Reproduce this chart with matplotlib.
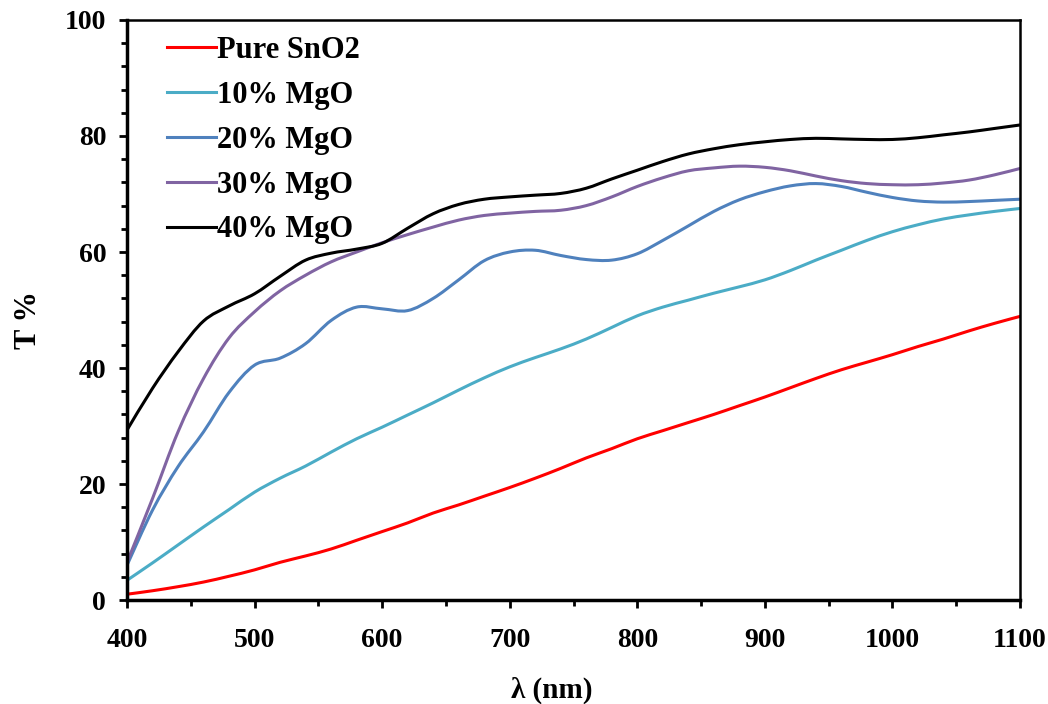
import numpy as np
import matplotlib
matplotlib.use("Agg")
import matplotlib.pyplot as plt
from matplotlib.path import Path
from matplotlib.patches import PathPatch
from matplotlib.lines import Line2D
from matplotlib.ticker import MultipleLocator

# wavelength grid (nm), sampled every 20 nm
wavelength = np.arange(400, 1101, 20)

# transmittance (%) for each film
pure_sno2 = [1.0, 1.6, 2.3, 3.1, 4.1, 5.2, 6.5, 7.6, 8.8, 10.3, 11.8, 13.3,
             15.0, 16.4, 17.9, 19.4, 21.0, 22.7, 24.5, 26.1, 27.8, 29.2, 30.6, 32.0,
             33.5, 35.0, 36.6, 38.2, 39.7, 41.0, 42.3, 43.7, 45.0, 46.4, 47.7, 48.9]
mgo_10 = [3.4, 6.4, 9.5, 12.6, 15.6, 18.6, 21.0, 23.1, 25.5, 27.8, 29.8, 31.9,
          34.0, 36.2, 38.3, 40.2, 41.8, 43.3, 45.0, 47.0, 49.0, 50.5, 51.7, 52.9,
          54.0, 55.2, 56.8, 58.6, 60.3, 62.0, 63.5, 64.7, 65.7, 66.4, 67.0, 67.5]
mgo_20 = [6.0, 15.5, 23.0, 29.0, 35.8, 40.5, 41.7, 44.2, 48.2, 50.5, 50.2, 49.9,
          52.0, 55.2, 58.5, 60.0, 60.3, 59.4, 58.7, 58.6, 59.7, 62.0, 64.5, 67.0,
          69.0, 70.4, 71.4, 71.8, 71.3, 70.3, 69.4, 68.8, 68.6, 68.7, 68.9, 69.1]
mgo_30 = [6.5, 17.5, 29.0, 38.2, 45.2, 49.7, 53.3, 56.0, 58.3, 60.0, 61.6, 63.0,
          64.3, 65.5, 66.3, 66.7, 67.0, 67.2, 68.0, 69.5, 71.3, 72.8, 74.0, 74.5,
          74.8, 74.6, 74.0, 73.1, 72.3, 71.8, 71.6, 71.6, 71.9, 72.4, 73.3, 74.4]
mgo_40 = [29.3, 36.5, 42.8, 48.1, 50.7, 52.8, 55.8, 58.6, 59.8, 60.5, 61.5, 64.1,
          66.6, 68.2, 69.1, 69.5, 69.8, 70.1, 71.0, 72.6, 74.1, 75.6, 76.9, 77.8,
          78.5, 79.0, 79.4, 79.6, 79.5, 79.4, 79.4, 79.7, 80.2, 80.7, 81.3, 81.9]

labels = ["Pure SnO2", "10% MgO", "20% MgO", "30% MgO", "40% MgO"]
colors = ["#FF0000", "#4BACC6", "#4F81BD", "#8064A2", "#000000"]


def smooth_path(x, y):
    # Catmull-Rom style smoothed line through the points, as cubic Bezier pieces
    pts = np.column_stack([x, y]).astype(float)
    ext = np.vstack([pts[0], pts, pts[-1]])
    verts = [pts[0]]
    codes = [Path.MOVETO]
    for i in range(len(pts) - 1):
        p0, p1, p2, p3 = ext[i], ext[i + 1], ext[i + 2], ext[i + 3]
        verts += [p1 + (p2 - p0) / 6.0, p2 - (p3 - p1) / 6.0, p2]
        codes += [Path.CURVE4] * 3
    return Path(verts, codes)


plt.rcParams["font.family"] = ["Liberation Serif", "DejaVu Serif"]
plt.rcParams["font.weight"] = "bold"

fig = plt.figure(figsize=(10.48, 7.04), dpi=100)
ax = fig.add_axes([0.1212, 0.1477, 0.8521, 0.8239])

handles = []
for series, lab, col in zip([pure_sno2, mgo_10, mgo_20, mgo_30, mgo_40], labels, colors):
    ax.add_patch(PathPatch(smooth_path(wavelength, series), facecolor="none",
                           edgecolor=col, lw=2.2, capstyle="round", joinstyle="round"))
    handles.append(Line2D([], [], color=col, lw=2.2, label=lab))

ax.set_xlim(400, 1100)
ax.set_ylim(0, 100)
ax.xaxis.set_major_locator(MultipleLocator(100))
ax.xaxis.set_minor_locator(MultipleLocator(50))
ax.yaxis.set_major_locator(MultipleLocator(20))
ax.yaxis.set_minor_locator(MultipleLocator(4))

ax.tick_params(which="both", direction="out", width=2, labelsize=20, top=False, right=False)
ax.tick_params(axis="x", which="major", length=6, pad=14)
ax.tick_params(axis="y", which="major", length=6, pad=9)
ax.tick_params(which="minor", length=4)
for lbl in ax.get_xticklabels() + ax.get_yticklabels():
    lbl.set_fontweight("bold")

for side in ["left", "bottom"]:
    ax.spines[side].set_linewidth(2.5)
for side in ["top", "right"]:
    ax.spines[side].set_linewidth(1.8)

ax.set_xlabel("λ (nm)", fontsize=21, fontweight="bold")
ax.set_ylabel("T %", fontsize=22, fontweight="bold")
ax.xaxis.set_label_coords(0.476, -0.133)
ax.yaxis.set_label_coords(-0.094, 0.483)

ax.legend(handles=handles, loc="upper left", bbox_to_anchor=(0.014, 1.02), frameon=False,
          handlelength=1.6, handletextpad=0.05, labelspacing=0.52,
          prop={"size": 22, "weight": "bold"})

fig.savefig("out.png", dpi=100)
